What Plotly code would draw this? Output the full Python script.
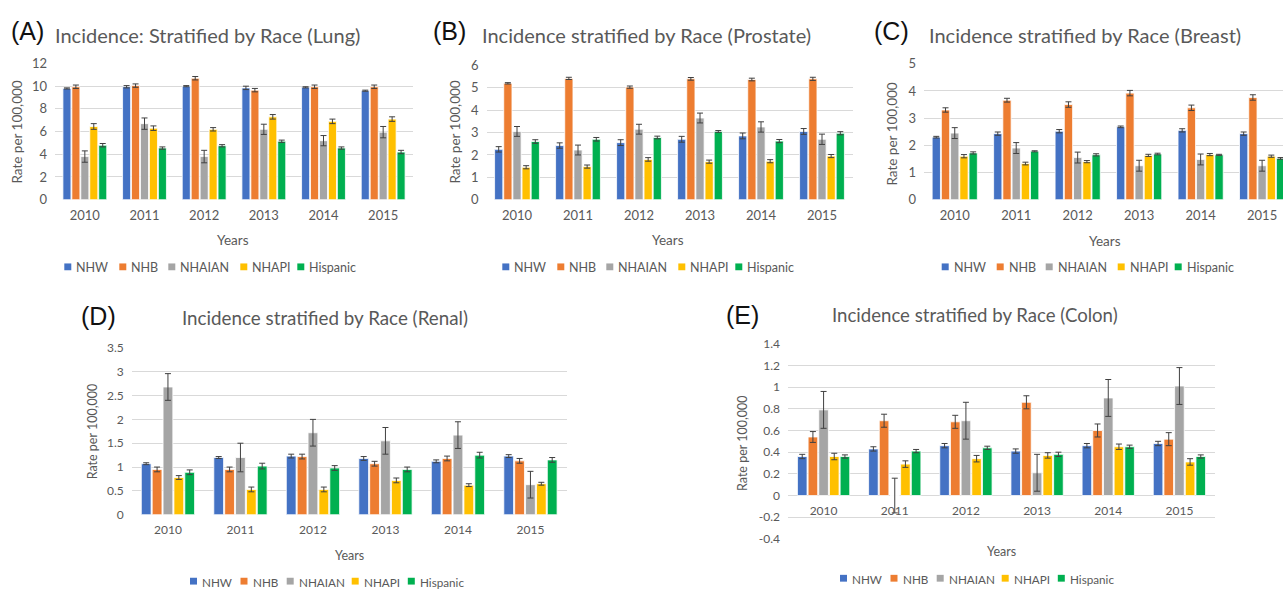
import plotly.graph_objects as go

years = ["2010", "2011", "2012", "2013", "2014", "2015"]
races = ["NHW", "NHB", "NHAIAN", "NHAPI", "Hispanic"]
race_colors = ["#4472C4", "#ED7D31", "#A5A5A5", "#FFC000", "#00B050"]

# (A) Lung
lung_rate = {
    "NHW":      [9.80, 9.95, 10.00, 9.85, 9.90, 9.60],
    "NHB":      [9.95, 10.05, 10.70, 9.65, 9.95, 9.95],
    "NHAIAN":   [3.80, 6.70, 3.80, 6.20, 5.20, 5.95],
    "NHAPI":    [6.45, 6.30, 6.20, 7.30, 6.90, 7.10],
    "Hispanic": [4.80, 4.55, 4.75, 5.15, 4.55, 4.20],
}
lung_err = {
    "NHW":      [0.05, 0.10, 0.05, 0.15, 0.05, 0.05],
    "NHB":      [0.15, 0.15, 0.15, 0.15, 0.15, 0.15],
    "NHAIAN":   [0.50, 0.50, 0.55, 0.45, 0.45, 0.50],
    "NHAPI":    [0.25, 0.20, 0.15, 0.20, 0.20, 0.20],
    "Hispanic": [0.15, 0.10, 0.10, 0.10, 0.10, 0.15],
}

# (B) Prostate
prostate_rate = {
    "NHW":      [2.25, 2.42, 2.55, 2.70, 2.85, 3.05],
    "NHB":      [5.20, 5.42, 5.03, 5.40, 5.37, 5.40],
    "NHAIAN":   [3.05, 2.22, 3.15, 3.65, 3.25, 2.70],
    "NHAPI":    [1.45, 1.48, 1.80, 1.70, 1.72, 1.95],
    "Hispanic": [2.60, 2.70, 2.78, 3.05, 2.62, 2.97],
}
prostate_err = {
    "NHW":      [0.12, 0.12, 0.13, 0.13, 0.13, 0.13],
    "NHB":      [0.03, 0.05, 0.05, 0.06, 0.06, 0.07],
    "NHAIAN":   [0.22, 0.22, 0.22, 0.22, 0.23, 0.23],
    "NHAPI":    [0.07, 0.07, 0.08, 0.07, 0.07, 0.07],
    "Hispanic": [0.08, 0.08, 0.06, 0.04, 0.07, 0.07],
}

# (C) Breast
breast_rate = {
    "NHW":      [2.30, 2.43, 2.52, 2.68, 2.55, 2.43],
    "NHB":      [3.30, 3.66, 3.50, 3.92, 3.38, 3.76],
    "NHAIAN":   [2.45, 1.90, 1.55, 1.25, 1.48, 1.25],
    "NHAPI":    [1.60, 1.33, 1.40, 1.63, 1.66, 1.60],
    "Hispanic": [1.72, 1.78, 1.65, 1.68, 1.65, 1.52],
}
breast_err = {
    "NHW":      [0.03, 0.06, 0.06, 0.03, 0.06, 0.06],
    "NHB":      [0.08, 0.07, 0.10, 0.10, 0.10, 0.10],
    "NHAIAN":   [0.20, 0.20, 0.20, 0.20, 0.20, 0.20],
    "NHAPI":    [0.06, 0.05, 0.04, 0.04, 0.04, 0.04],
    "Hispanic": [0.04, 0.02, 0.04, 0.03, 0.02, 0.03],
}

# (D) Renal
renal_rate = {
    "NHW":      [1.07, 1.20, 1.23, 1.18, 1.12, 1.23],
    "NHB":      [0.95, 0.95, 1.22, 1.07, 1.18, 1.13],
    "NHAIAN":   [2.68, 1.20, 1.72, 1.55, 1.67, 0.63],
    "NHAPI":    [0.78, 0.53, 0.53, 0.72, 0.62, 0.65],
    "Hispanic": [0.89, 1.02, 0.98, 0.95, 1.25, 1.15],
}
renal_err = {
    "NHW":      [0.02, 0.02, 0.04, 0.04, 0.03, 0.03],
    "NHB":      [0.05, 0.05, 0.05, 0.05, 0.05, 0.05],
    "NHAIAN":   [0.28, 0.30, 0.28, 0.28, 0.28, 0.28],
    "NHAPI":    [0.04, 0.05, 0.05, 0.05, 0.03, 0.03],
    "Hispanic": [0.05, 0.06, 0.05, 0.05, 0.06, 0.05],
}

# (E) Colon
colon_rate = {
    "NHW":      [0.36, 0.43, 0.46, 0.41, 0.46, 0.48],
    "NHB":      [0.54, 0.69, 0.68, 0.86, 0.60, 0.52],
    "NHAIAN":   [0.79, 0.00, 0.69, 0.21, 0.90, 1.01],
    "NHAPI":    [0.36, 0.29, 0.34, 0.37, 0.45, 0.31],
    "Hispanic": [0.36, 0.41, 0.44, 0.38, 0.45, 0.36],
}
colon_err = {
    "NHW":      [0.02, 0.02, 0.02, 0.02, 0.02, 0.02],
    "NHB":      [0.05, 0.06, 0.06, 0.06, 0.06, 0.06],
    "NHAIAN":   [0.17, 0.16, 0.17, 0.17, 0.17, 0.17],
    "NHAPI":    [0.03, 0.03, 0.03, 0.025, 0.025, 0.03],
    "Hispanic": [0.015, 0.015, 0.015, 0.02, 0.015, 0.015],
}
colon_tickvals = [-0.4, -0.2, 0, 0.2, 0.4, 0.6, 0.8, 1, 1.2, 1.4]
colon_ticktext = ["-0.4", "-0.2", "0", "0.2", "0.4", "0.6", "0.8", "1", "1.2", "1.4"]

W, H = 1283, 595
FONT = "Lato"
GREY = "#595959"


def px(x):
    return x / W


def py(y):
    return 1 - y / H


# legend item offsets (px) from the first swatch, for top and bottom rows
LEG_OFF_TOP = [0, 55, 104, 176, 233]
LEG_OFF_BOT = [0, 50.5, 96.7, 161.7, 217.8]

panels = [
    dict(n="", rate=lung_rate, err=lung_err, label="(A)",
         title="Incidence: Stratified by Race (Lung)", tsize=20, tfs=13, afs=13.5,
         xd=(55, 413), yd=(197, 57), yr=[0, 12], dt=2, xr=[-0.5, 5.5],
         lab=(9, 24), tit=(53, 28), leg=(64.3, 266), legoff=LEG_OFF_TOP, legfs=12.5,
         yrs=(233, 238), yt=(17, 128)),
    dict(n="2", rate=prostate_rate, err=prostate_err, label="(B)",
         title="Incidence stratified by Race (Prostate)", tsize=20, tfs=13, afs=13.5,
         xd=(486.5, 852.5), yd=(197, 59), yr=[0, 6], dt=1, xr=[-0.5, 5.5],
         lab=(431, 24), tit=(480, 28), leg=(502.3, 266), legoff=LEG_OFF_TOP, legfs=12.5,
         yrs=(668, 238), yt=(455, 128)),
    dict(n="3", rate=breast_rate, err=breast_err, label="(C)",
         title="Incidence stratified by Race (Breast)", tsize=20, tfs=13, afs=13.5,
         xd=(924, 1283), yd=(197, 57.3), yr=[0, 5], dt=1, xr=[-0.5, 5.34],
         lab=(872, 24), tit=(927, 28), leg=(941.7, 266), legoff=LEG_OFF_TOP, legfs=12.5,
         yrs=(1105, 239), yt=(892, 130)),
    dict(n="4", rate=renal_rate, err=renal_err, label="(D)",
         title="Incidence stratified by Race (Renal)", tsize=18.8, tfs=12, afs=12.5,
         xd=(131.7, 566.7), yd=(520.7, 349.3), yr=[0, 3.5], dt=0.5, xr=[-0.5, 5.5],
         lab=(79, 317), tit=(180, 318), leg=(190, 589), legoff=LEG_OFF_BOT, legfs=11.7,
         yrs=(349, 563), yt=(92, 435)),
    dict(n="5", rate=colon_rate, err=colon_err, label="(E)",
         title="Incidence stratified by Race (Colon)", tsize=18.6, tfs=12, afs=12.5,
         xd=(788, 1215), yd=(545.6, 345), yr=[-0.4, 1.4], dt=0.2, xr=[-0.5, 5.5],
         lab=(724, 315), tit=(830, 315), leg=(840, 586), legoff=LEG_OFF_BOT, legfs=11.7,
         yrs=(1001, 559), yt=(743, 447)),
]

fig = go.Figure()
annotations = []
shapes = []
layout = {}

for p in panels:
    n = p["n"]
    xa = "x" + n
    ya = "y" + n
    for race, col in zip(races, race_colors):
        fig.add_trace(go.Bar(
            x=years, y=p["rate"][race], name=race,
            marker=dict(color=col, line=dict(color="white", width=0.8)),
            error_y=dict(type="data", array=p["err"][race], visible=True,
                         color="#404040", thickness=1, width=3),
            xaxis=xa, yaxis=ya, showlegend=False,
        ))
    xaxis = dict(
        domain=[px(p["xd"][0]), px(p["xd"][1])],
        range=p["xr"], type="category",
        showgrid=False, showline=False, zeroline=False,
        ticks="", ticklabelstandoff=6,
        tickfont=dict(family=FONT, size=p["tfs"], color=GREY),
        anchor=ya, fixedrange=True,
    )
    yaxis = dict(
        domain=[py(p["yd"][0]), py(p["yd"][1])],
        range=p["yr"], dtick=p["dt"], tick0=0,
        showgrid=True, gridcolor="#D9D9D9", gridwidth=1,
        zeroline=False, showline=False, ticks="",
        ticklabelstandoff=7,
        tickfont=dict(family=FONT, size=p["tfs"], color=GREY),
        anchor=xa, fixedrange=True,
    )
    if n == "5":
        zero_frac = (0 - p["yr"][0]) / (p["yr"][1] - p["yr"][0])
        y0, y1 = yaxis["domain"]
        xaxis["anchor"] = "free"
        xaxis["position"] = y0 + zero_frac * (y1 - y0)
        yaxis["tickmode"] = "array"
        yaxis["tickvals"] = colon_tickvals
        yaxis["ticktext"] = colon_ticktext
    layout["xaxis" + n] = xaxis
    layout["yaxis" + n] = yaxis

    # legend row: colour swatch + label
    lx, ly = p["leg"]
    for off, race, col in zip(p["legoff"], races, race_colors):
        sx = lx + off
        shapes.append(dict(
            type="rect", xref="paper", yref="paper",
            x0=px(sx), x1=px(sx + 7), y0=py(ly + 3.5), y1=py(ly - 3.5),
            fillcolor=col, line=dict(width=0)))
        annotations.append(dict(
            text=race, x=px(sx + 10), y=py(ly + 0.5),
            xref="paper", yref="paper", xanchor="left", yanchor="middle",
            showarrow=False, font=dict(family=FONT, size=p["legfs"], color=GREY)))

    annotations.append(dict(
        text=p["label"], x=px(p["lab"][0]), y=py(p["lab"][1]),
        xref="paper", yref="paper", xanchor="left", yanchor="middle",
        showarrow=False, font=dict(family="Liberation Sans", size=25, color="#111111")))
    annotations.append(dict(
        text=p["title"], x=px(p["tit"][0]), y=py(p["tit"][1]),
        xref="paper", yref="paper", xanchor="left", yanchor="middle",
        showarrow=False, font=dict(family=FONT, size=p["tsize"], color=GREY)))
    annotations.append(dict(
        text="Years", x=px(p["yrs"][0]), y=py(p["yrs"][1]),
        xref="paper", yref="paper", xanchor="center", yanchor="middle",
        showarrow=False, font=dict(family=FONT, size=p["afs"], color=GREY)))
    annotations.append(dict(
        text="Rate per 100,000", x=px(p["yt"][0]), y=py(p["yt"][1]),
        xref="paper", yref="paper", xanchor="center", yanchor="middle",
        textangle=-90, showarrow=False,
        font=dict(family=FONT, size=p["afs"], color=GREY)))

fig.update_layout(
    width=W, height=H,
    margin=dict(l=0, r=0, t=0, b=0),
    paper_bgcolor="white", plot_bgcolor="white",
    barmode="group", bargap=0.25, bargroupgap=0.1,
    showlegend=False,
    annotations=annotations,
    shapes=shapes,
    font=dict(family=FONT, color=GREY),
    **layout,
)

fig.write_html(
    "out.html",
    config={"displayModeBar": False},
    post_script="document.body.style.margin='0';document.body.style.overflow='hidden';",
)
